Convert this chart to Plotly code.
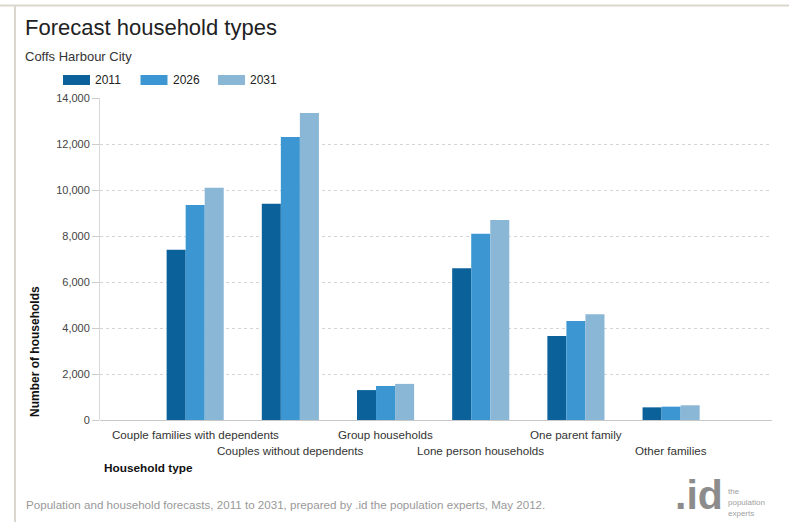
import plotly.graph_objects as go

# Household categories and forecast counts
categories = [
    "Couple families with dependents",
    "Couples without dependents",
    "Group households",
    "Lone person households",
    "One parent family",
    "Other families",
]
years = ["2011", "2026", "2031"]
households_2011 = [7400, 9400, 1300, 6600, 3650, 550]
households_2026 = [9350, 12300, 1480, 8100, 4300, 580]
households_2031 = [10100, 13350, 1570, 8700, 4600, 640]
series = [households_2011, households_2026, households_2031]
colors = ["#0b6199", "#3b96d1", "#8bb7d6"]

y_ticks = [0, 2000, 4000, 6000, 8000, 10000, 12000, 14000]

W, H = 789, 522
L, R, T, B = 100, 772, 98, 420  # plot area in pixels


def px(x):
    return (x - L) / (R - L)


def py(y):
    return (B - y) / (B - T)


FONT = "Liberation Sans, Arial, sans-serif"

fig = go.Figure()
for name, vals, col in zip(years, series, colors):
    fig.add_trace(go.Bar(
        x=list(range(len(categories))), y=vals, name=name,
        marker=dict(color=col, line=dict(width=0)),
        showlegend=False,
    ))

fig.update_layout(
    width=W, height=H,
    margin=dict(l=L, r=W - R, t=T, b=H - B, pad=0, autoexpand=False),
    paper_bgcolor="white", plot_bgcolor="white",
    barmode="group", bargap=0.4, bargroupgap=0,
    font=dict(family=FONT, color="#333", size=11),
    xaxis=dict(
        range=[-1.0, 6.06], automargin=False,
        showticklabels=False,
        showgrid=False, zeroline=False, showline=False, ticks="",
    ),
    yaxis=dict(
        range=[0, 14000], tickvals=y_ticks, tickformat=",d", automargin=False,
        showgrid=True, gridcolor="#d4d4d4", griddash="dot", gridwidth=1,
        zeroline=True, zerolinecolor="#c8c8c8", zerolinewidth=1,
        showline=True, linecolor="#d8d8d8", linewidth=1,
        ticks="outside", ticklen=7, tickcolor="#cccccc",
        tickfont=dict(size=11, color="#444"),
    ),
    title=dict(
        text="Forecast household types", x=25 / W, xanchor="left",
        xref="container", yref="container", y=1 - 27 / H, yanchor="middle",
        font=dict(size=22, color="#222", family=FONT),
    ),
)

ann = []
# staggered category labels: every second one sits on a lower row
for i, cat in enumerate(categories):
    ann.append(dict(text=cat, x=i, xref="x", y=py(434 if i % 2 == 0 else 450),
                    yref="paper", xanchor="center", yanchor="middle",
                    font=dict(size=11.6, color="#333")))

ann.append(dict(text="Coffs Harbour City", x=px(23), y=py(56), xanchor="left",
                yanchor="middle", font=dict(size=13, color="#333")))
ann.append(dict(text="<b>Number of households</b>", x=px(35), y=py(352),
                textangle=-90, xanchor="center", yanchor="middle",
                font=dict(size=12, color="#111")))
ann.append(dict(text="<b>Household type</b>", x=px(102), y=py(468),
                xanchor="left", yanchor="middle", font=dict(size=11.8, color="#111")))
ann.append(dict(
    text="Population and household forecasts, 2011 to 2031, prepared by .id the population experts, May 2012.",
    x=px(24), y=py(504), xanchor="left", yanchor="middle",
    font=dict(size=11.6, color="#999")))
ann.append(dict(text="<b>.id</b>", x=px(725), y=py(495), xanchor="right",
                yanchor="middle", font=dict(size=41, color="#8c8c8c")))
for txt, yy in zip(["the", "population", "experts"], [491, 502, 513]):
    ann.append(dict(text=txt, x=px(726), y=py(yy), xanchor="left",
                    yanchor="middle", font=dict(size=8, color="#a0a0a0")))

shapes = []
# manual legend with wide swatches
for i, (name, col) in enumerate(zip(years, colors)):
    x0 = 63 + i * 77.5
    shapes.append(dict(type="rect", xref="paper", yref="paper",
                       x0=px(x0), x1=px(x0 + 27), y0=py(85), y1=py(75),
                       fillcolor=col, line=dict(width=0)))
    ann.append(dict(text=name, x=px(x0 + 30), y=py(80), xanchor="left",
                    yanchor="middle", font=dict(size=12, color="#222")))

# frame lines along the top and left edges
shapes.append(dict(type="line", xref="paper", yref="paper",
                   x0=px(0), x1=px(W), y0=py(5.5), y1=py(5.5),
                   line=dict(color="#dcd7ce", width=2)))
shapes.append(dict(type="line", xref="paper", yref="paper",
                   x0=px(15), x1=px(15), y0=py(5.5), y1=py(H),
                   line=dict(color="#dcd7ce", width=2)))

for a in ann:
    a.setdefault("xref", "paper")
    a.update(yref="paper", showarrow=False)

fig.update_layout(annotations=ann, shapes=shapes)

fig.write_html("out.html")
